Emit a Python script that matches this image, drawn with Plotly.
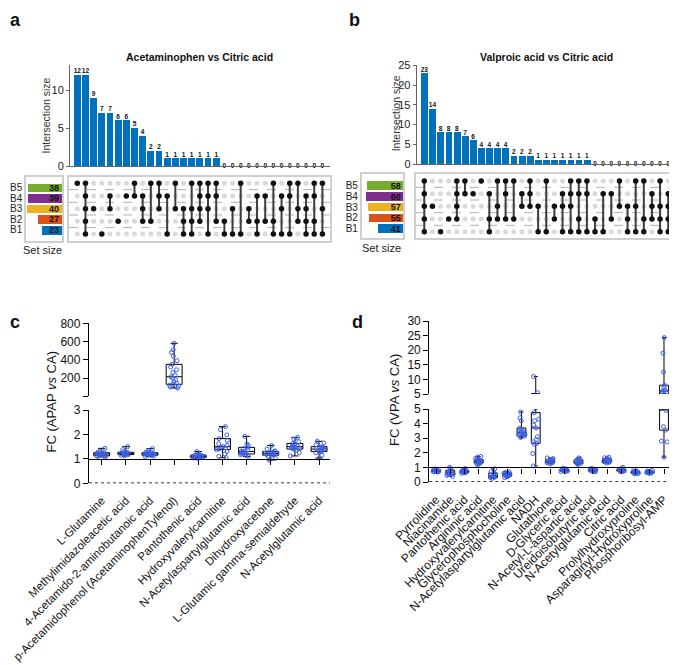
import plotly.graph_objects as go

W, H = 677, 665
OFF = 8  # the page body margin shifts the figure by 8 px
FONT = "Liberation Sans, Arial, sans-serif"


def fx(p):
    return (p - OFF) / W


def fy(p):
    return 1 - (p - OFF) / H


# ---------------- UpSet data ----------------
set_names = ["B1", "B2", "B3", "B4", "B5"]
set_colors = ["#0072BD", "#D95319", "#EDB120", "#7E2F8E", "#77AC30"]

a_set_size = [23, 27, 40, 39, 38]
a_counts = [12, 12, 9, 7, 7, 6, 6, 5, 4, 2, 2, 1, 1, 1, 1, 1, 1, 1,
            0, 0, 0, 0, 0, 0, 0, 0, 0, 0, 0, 0, 0]
a_members = ["B5", "B5 B4 B3 B2 B1", "B3", "B1", "B4 B3", "B2", "B4", "B5 B4",
             "B4 B3 B2", "B5 B2", "B5 B4 B3", "B4 B1", "B5 B3", "B3 B2 B1",
             "B5 B3 B2 B1", "B5 B4 B3 B2", "B5 B4 B3 B1", "B5 B4 B2",
             "B2 B1", "B3 B1", "B5 B1", "B3 B2", "B4 B2 B1", "B4 B2",
             "B5 B2 B1", "B4 B3 B1", "B5 B4 B1", "B5 B3 B2", "B4 B3 B2 B1",
             "B5 B4 B2 B1", "B5 B3 B1"]

b_set_size = [41, 55, 57, 60, 58]
b_counts = [23, 14, 8, 8, 8, 7, 6, 4, 4, 4, 4, 2, 2, 2, 1, 1, 1, 1, 1, 1, 1,
            0, 0, 0, 0, 0, 0, 0, 0, 0, 0]
b_members = ["B5 B4 B3 B2 B1", "B3", "B1", "B2", "B5 B4 B3 B2", "B5 B4", "B4",
             "B5", "B4 B2 B1", "B5 B3 B2", "B5 B4 B2", "B5 B2", "B4 B3",
             "B5 B4 B3", "B3 B1", "B5 B1", "B3 B2", "B4 B3 B1", "B5 B4 B3 B1",
             "B5 B4 B2 B1", "B5 B4 B1", "B2 B1", "B4 B1", "B4 B2", "B5 B3",
             "B3 B2 B1", "B5 B3 B1", "B5 B2 B1", "B4 B3 B2", "B5 B3 B2 B1",
             "B4 B3 B2 B1"]

# ---------------- box plot data ----------------
c_names = ["L-Glutamine", "Methylimidazoleacetic acid",
           "4-Acetamido-2-aminobutanoic acid",
           "p-Acetamidophenol (AcetaminophenTylenol)", "Pantothenic acid",
           "Hydroxyvalerylcarnitine", "N-Acetylaspartylglutamic acid",
           "Dihydroxyacetone", "L-Glutamic gamma-semialdehyde",
           "N-Acetylglutamic acid"]
c_q1 = [1.13, 1.18, 1.15, 131, 1.06, 1.38, 1.20, 1.15, 1.40, 1.30]
c_med = [1.20, 1.22, 1.20, 214, 1.10, 1.50, 1.30, 1.22, 1.50, 1.40]
c_q3 = [1.25, 1.27, 1.25, 350, 1.15, 1.83, 1.47, 1.30, 1.63, 1.50]
c_min = [1.08, 1.12, 1.10, 90, 1.03, 1.05, 1.10, 0.95, 1.12, 1.03]
c_max = [1.43, 1.50, 1.42, 580, 1.30, 2.32, 1.92, 1.55, 1.88, 1.72]
c_points = [
    [1.43, 1.30, 1.27, 1.25, 1.24, 1.22, 1.21, 1.20, 1.19, 1.18, 1.16, 1.15, 1.13, 1.12, 1.10, 1.08],
    [1.50, 1.38, 1.30, 1.27, 1.26, 1.24, 1.23, 1.22, 1.21, 1.20, 1.19, 1.18, 1.17, 1.15, 1.12],
    [1.42, 1.33, 1.28, 1.25, 1.24, 1.22, 1.21, 1.20, 1.19, 1.18, 1.16, 1.15, 1.14, 1.12, 1.10],
    [580, 510, 480, 440, 390, 350, 320, 290, 260, 230, 214, 200, 180, 160, 140, 131, 120, 110, 100, 90],
    [1.30, 1.20, 1.17, 1.15, 1.14, 1.12, 1.11, 1.10, 1.09, 1.08, 1.07, 1.06, 1.05, 1.04, 1.03],
    [2.32, 2.20, 1.98, 1.83, 1.75, 1.62, 1.55, 1.50, 1.48, 1.45, 1.40, 1.38, 1.30, 1.20, 1.10, 1.05],
    [1.92, 1.60, 1.55, 1.47, 1.42, 1.36, 1.32, 1.30, 1.27, 1.25, 1.22, 1.20, 1.17, 1.14, 1.10],
    [1.55, 1.40, 1.33, 1.30, 1.27, 1.25, 1.23, 1.22, 1.20, 1.18, 1.16, 1.15, 1.10, 1.02, 0.95],
    [1.88, 1.80, 1.70, 1.63, 1.60, 1.55, 1.52, 1.50, 1.48, 1.45, 1.42, 1.40, 1.35, 1.25, 1.12],
    [1.72, 1.65, 1.58, 1.50, 1.48, 1.45, 1.42, 1.40, 1.38, 1.35, 1.32, 1.30, 1.25, 1.15, 1.03],
]

d_names = ["Pyrrolidine", "Niacinamide", "Pantothenic acid", "Argininic acid",
           "Hydroxyvalerylcarnitine", "Glycerophosphocholine",
           "N-Acetylaspartylglutamic acid", "NADH", "Glutathione",
           "D-Glyceric acid", "N-Acetyl-L-aspartic acid",
           "Ureidoisobutyric acid", "N-Acetylglutamic acid", "Citric acid",
           "Prolylhydroxyproline", "Asparaginyl-Hydroxyproline",
           "Phosphoribosyl-AMP"]
d_q1 = [0.72, 0.50, 0.65, 1.30, 0.30, 0.40, 3.20, 2.65, 1.32, 0.75, 1.28, 0.75, 1.35, 0.75, 0.60, 0.62, 3.55]
d_med = [0.78, 0.62, 0.70, 1.40, 0.42, 0.50, 3.40, 3.70, 1.42, 0.80, 1.38, 0.80, 1.47, 0.80, 0.65, 0.67, 6.00]
d_q3 = [0.85, 0.80, 0.78, 1.55, 0.60, 0.60, 3.70, 4.75, 1.55, 0.88, 1.52, 0.88, 1.60, 0.88, 0.72, 0.72, 8.00]
d_min = [0.68, 0.38, 0.60, 1.18, 0.25, 0.30, 3.05, 1.10, 1.25, 0.70, 1.20, 0.70, 1.30, 0.70, 0.55, 0.60, 1.70]
d_max = [0.90, 1.00, 0.92, 1.75, 0.90, 0.70, 4.80, 11.0, 1.65, 0.95, 1.65, 0.92, 1.70, 1.00, 0.85, 0.80, 24.3]
d_points = [
    [0.90, 0.87, 0.85, 0.82, 0.80, 0.78, 0.77, 0.75, 0.73, 0.72, 0.70, 0.68],
    [1.00, 0.92, 0.80, 0.75, 0.68, 0.62, 0.60, 0.55, 0.50, 0.45, 0.38],
    [0.92, 0.80, 0.78, 0.74, 0.72, 0.70, 0.68, 0.66, 0.65, 0.62, 0.60],
    [1.75, 1.70, 1.62, 1.55, 1.50, 1.45, 1.40, 1.37, 1.33, 1.30, 1.25, 1.18],
    [0.90, 0.70, 0.60, 0.55, 0.48, 0.42, 0.40, 0.35, 0.32, 0.30, 0.25],
    [0.70, 0.65, 0.60, 0.56, 0.52, 0.50, 0.47, 0.44, 0.40, 0.35, 0.30],
    [4.80, 4.40, 4.20, 3.70, 3.60, 3.50, 3.45, 3.40, 3.35, 3.30, 3.25, 3.20, 3.15, 3.10, 3.05],
    [11.0, 5.45, 4.75, 4.30, 4.20, 3.90, 3.70, 3.10, 2.90, 2.75, 2.65, 2.60, 1.95, 1.10],
    [1.65, 1.60, 1.55, 1.50, 1.46, 1.42, 1.40, 1.36, 1.32, 1.30, 1.25],
    [0.95, 0.90, 0.88, 0.85, 0.82, 0.80, 0.78, 0.76, 0.75, 0.72, 0.70],
    [1.65, 1.60, 1.52, 1.48, 1.42, 1.38, 1.35, 1.30, 1.28, 1.25, 1.20],
    [0.92, 0.90, 0.88, 0.85, 0.82, 0.80, 0.78, 0.76, 0.75, 0.72, 0.70],
    [1.70, 1.66, 1.60, 1.55, 1.50, 1.47, 1.44, 1.40, 1.37, 1.35, 1.30],
    [1.00, 0.92, 0.88, 0.85, 0.82, 0.80, 0.78, 0.76, 0.75, 0.72, 0.70],
    [0.85, 0.75, 0.72, 0.70, 0.67, 0.65, 0.63, 0.61, 0.60, 0.58, 0.55],
    [0.80, 0.75, 0.72, 0.70, 0.68, 0.67, 0.66, 0.64, 0.62, 0.61, 0.60],
    [24.3, 19.0, 12.5, 8.0, 7.2, 6.3, 6.0, 5.8, 5.6, 4.9, 3.8, 3.55, 2.8, 2.75, 1.7],
]


def X(i):
    return "x" if i == 1 else f"x{i}"


def Y(i):
    return "y" if i == 1 else f"y{i}"


def XL(i):
    return "xaxis" if i == 1 else f"xaxis{i}"


def YL(i):
    return "yaxis" if i == 1 else f"yaxis{i}"


fig = go.Figure()
layout = {}
shapes = []
NOAX = dict(showgrid=False, zeroline=False, automargin=False)


def col_range(d0, d1, c1, step):
    return [1 + (d0 - c1) / step, 1 + (d1 - c1) / step]


def row_range(top, bot, r5, step):
    # r5: pixel centre of the top row (index 4)
    return [-(bot - (r5 + 4 * step)) / step, 4 + (r5 - top) / step]


def upset(i, counts, members, sizes, g):
    cols = list(range(1, len(counts) + 1))
    # intersection bars
    fig.add_trace(go.Bar(x=cols, y=counts, marker_color="#0072BD", marker_line_width=0,
                         width=0.84, xaxis=X(i), yaxis=Y(i), hoverinfo="skip"))
    fig.add_trace(go.Scatter(x=cols, y=counts, mode="text",
                             text=[f"<b>{c}</b>" for c in counts],
                             textposition=["top center" if c else "middle center" for c in counts],
                             textfont=dict(size=6.5, color="#111", family=FONT),
                             xaxis=X(i), yaxis=Y(i), hoverinfo="skip", cliponaxis=False))
    layout[XL(i)] = dict(domain=[fx(g["bx"][0]), fx(g["bx"][1])],
                         range=col_range(g["bx"][0], g["bx"][1], g["c1"], g["step"]),
                         anchor=Y(i), showline=True, linecolor="#666", linewidth=1, ticks="",
                         showticklabels=False, **NOAX)
    layout[YL(i)] = dict(domain=[fy(g["by"][1]), fy(g["by"][0])], range=[0, g["ytop"]],
                         anchor=X(i), tickvals=g["yticks"], ticks="outside", ticklen=3,
                         tickcolor="#666", showline=True, linecolor="#666", linewidth=1,
                         tickfont=dict(size=11, color="#222", family=FONT), **NOAX)
    # membership matrix
    j = i + 1
    gx, gy = [], []
    for c in cols:
        for r in range(5):
            gx.append(c)
            gy.append(r)
    fig.add_trace(go.Scatter(x=gx, y=gy, mode="markers",
                             marker=dict(size=5, color="#dadada"),
                             xaxis=X(j), yaxis=Y(j), hoverinfo="skip"))
    lx, ly, dx, dy = [], [], [], []
    for c, m in zip(cols, members):
        rows = [set_names.index(s) for s in m.split()]
        dx += [c] * len(rows)
        dy += rows
        if len(rows) > 1:
            lx += [c, c, None]
            ly += [min(rows), max(rows), None]
    fig.add_trace(go.Scatter(x=lx, y=ly, mode="lines", line=dict(color="#3c3c3c", width=2),
                             xaxis=X(j), yaxis=Y(j), hoverinfo="skip"))
    fig.add_trace(go.Scatter(x=dx, y=dy, mode="markers", marker=dict(size=5.5, color="#111"),
                             xaxis=X(j), yaxis=Y(j), hoverinfo="skip"))
    box = dict(showline=True, mirror=True, linecolor="#cfcfcf", linewidth=1.5, ticks="", **NOAX)
    layout[XL(j)] = dict(domain=[fx(g["mx"][0]), fx(g["mx"][1])],
                         range=col_range(g["mx"][0], g["mx"][1], g["c1"], g["step"]),
                         anchor=Y(j), showticklabels=False, **box)
    layout[YL(j)] = dict(domain=[fy(g["my"][1]), fy(g["my"][0])],
                         range=row_range(g["my"][0], g["my"][1], g["mr5"], g["mstep"]),
                         anchor=X(j), showticklabels=False, **box)
    for r in (0.5, 1.5, 2.5, 3.5):
        shapes.append(dict(type="line", xref=f"{X(j)} domain", x0=0, x1=1, yref=Y(j),
                           y0=r, y1=r, layer="below",
                           line=dict(color="#b0b0b0", width=1, dash="dash")))
    # set sizes
    k = i + 2
    fig.add_trace(go.Bar(x=sizes, y=list(range(5)), orientation="h", marker_color=set_colors,
                         marker_line_width=0, width=0.8, text=sizes,
                         texttemplate="<b>%{x}</b>", textposition="inside",
                         insidetextanchor="start", constraintext="none",
                         textfont=dict(size=9, color="#111", family=FONT),
                         xaxis=X(k), yaxis=Y(k), hoverinfo="skip"))
    layout[XL(k)] = dict(domain=[fx(g["sx"][0]), fx(g["sx"][1])], range=[g["smax"], 0],
                         anchor=Y(k), showticklabels=False, **box)
    layout[YL(k)] = dict(domain=[fy(g["sy"][1]), fy(g["sy"][0])],
                         range=row_range(g["sy"][0], g["sy"][1], g["sr5"], g["sstep"]),
                         anchor=X(k), tickvals=list(range(5)), ticktext=set_names,
                         tickfont=dict(size=10, color="#222", family=FONT), **box)


upset(1, a_counts, a_members, a_set_size,
      dict(bx=(70, 330), by=(65, 166), ytop=13.3, yticks=[0, 5, 10], c1=77.3, step=8.17,
           mx=(69, 330), my=(177, 241), mr5=183.3, mstep=12.67,
           sx=(26, 62), sy=(176.7, 240.7), smax=40.8, sr5=187.7, sstep=10.57))
upset(4, b_counts, b_members, b_set_size,
      dict(bx=(416.7, 675), by=(65, 164), ytop=25.1, yticks=[0, 5, 10, 15, 20, 25],
           c1=424.3, step=8.13,
           mx=(416, 673), my=(174, 238), mr5=181, mstep=12.67,
           sx=(361.7, 403.3), sy=(174, 238), smax=65.7, sr5=185.5, sstep=10.8))


# ---------------- broken-axis box plots ----------------
def boxes(xa, xlab, ylo, yhi, names, q1, med, q3, lo, hi, pts, g):
    pos = list(range(len(names)))
    for ya, (r0, r1) in ((ylo, g["lor"]), (yhi, g["hir"])):
        # keep only what falls inside this segment of the broken axis
        keep = [p for p in pos if lo[p] < r1 and hi[p] > r0]

        def cut(v):
            return [min(max(v[p], r0), r1) for p in keep]

        fig.add_trace(go.Box(x=keep, q1=cut(q1), median=cut(med), q3=cut(q3),
                             lowerfence=cut(lo), upperfence=cut(hi),
                             width=g["bw"], whiskerwidth=0.45, boxpoints=False,
                             line=dict(color="black", width=1), fillcolor="rgba(0,0,0,0)",
                             xaxis=X(xa), yaxis=Y(ya), hoverinfo="skip"))
        ptx, pty = [], []
        for p, vals in zip(pos, pts):
            for v in vals:
                if r0 <= v <= r1:
                    ptx.append(p)
                    pty.append(v)
        fig.add_trace(go.Box(x=ptx, y=pty, boxpoints="all", jitter=0.8, pointpos=0,
                             width=g["bw"], line=dict(color="rgba(0,0,0,0)", width=0),
                             fillcolor="rgba(0,0,0,0)",
                             marker=dict(symbol="circle-open", size=4, color="#3a5fe6",
                                         line=dict(width=1, color="#3a5fe6")),
                             xaxis=X(xa), yaxis=Y(ya), hoverinfo="skip"))
    # invisible carrier trace so the label axis gets drawn
    fig.add_trace(go.Scatter(x=pos, y=[0] * len(pos), mode="markers", marker=dict(opacity=0),
                             xaxis=X(xlab), yaxis=Y(ylo), hoverinfo="skip"))
    x0, x1 = g["x"]
    xr = [-(g["t0"] - x0) / g["dt"], (x1 - g["t0"]) / g["dt"]]
    lo_dom = [fy(g["ylo"][1]), fy(g["ylo"][0])]
    rl = g["lor"]
    pos1 = lo_dom[0] + (1 - rl[0]) / (rl[1] - rl[0]) * (lo_dom[1] - lo_dom[0])
    layout[XL(xa)] = dict(domain=[fx(x0), fx(x1)], range=xr, anchor="free", position=pos1,
                          showline=True, linecolor="black", linewidth=1.3, ticks="outside",
                          ticklen=5, tickwidth=1.2, tickcolor="black", tickvals=pos,
                          showticklabels=False, **NOAX)
    layout[XL(xlab)] = dict(domain=[fx(x0), fx(x1)], range=xr, anchor=Y(ylo), showline=False,
                            ticks="outside", ticklen=5, tickcolor="rgba(0,0,0,0)",
                            tickvals=pos, ticktext=names, tickangle=-45,
                            ticklabeloverflow="allow",
                            tickfont=dict(size=g["lf"], color="#111", family=FONT), **NOAX)
    common = dict(anchor=X(xa), showline=True, linecolor="black", linewidth=1.3,
                  ticks="outside", ticklen=5, tickwidth=1.2, tickcolor="black",
                  tickfont=dict(size=12, color="#111", family=FONT), **NOAX)
    layout[YL(ylo)] = dict(domain=lo_dom, range=g["lor"], tickvals=g["lot"], **common)
    layout[YL(yhi)] = dict(domain=[fy(g["yhi"][1]), fy(g["yhi"][0])], range=g["hir"],
                           tickvals=g["hit"], ticktext=g["hitxt"], **common)
    shapes.append(dict(type="line", xref=f"{X(xa)} domain", x0=0, x1=1, yref=Y(ylo),
                       y0=0, y1=0, line=dict(color="black", width=1.6, dash="dot")))


boxes(7, 8, 7, 8, c_names, c_q1, c_med, c_q3, c_min, c_max, c_points,
      dict(x=(89, 330), t0=101.7, dt=24.15, bw=0.66, lf=11.5,
           ylo=(410, 483.3), lor=[0, 3], lot=[0, 1, 2, 3],
           yhi=(323.3, 396), hir=[3, 800], hit=[3, 200, 400, 600, 800],
           hitxt=["", "200", "400", "600", "800"]))
boxes(9, 10, 9, 10, d_names, d_q1, d_med, d_q3, d_min, d_max, d_points,
      dict(x=(429.3, 671.7), t0=436, dt=14.25, bw=0.62, lf=12,
           ylo=(409, 482), lor=[0, 5], lot=[0, 1, 2, 3, 4, 5],
           yhi=(321, 394), hir=[5, 30], hit=[5, 10, 15, 20, 25, 30],
           hitxt=["5", "10", "15", "20", "25", "30"]))


# ---------------- text ----------------
def note(text, x, y, size, bold=False, angle=0, xanchor="center", color="#111"):
    return dict(text=f"<b>{text}</b>" if bold else text, x=fx(x), y=fy(y), xref="paper",
                yref="paper", showarrow=False, textangle=angle, xanchor=xanchor,
                yanchor="middle", font=dict(size=size, color=color, family=FONT))


annotations = [
    note("a", 8, 20, 18, bold=True, xanchor="left"),
    note("b", 347, 20, 18, bold=True, xanchor="left"),
    note("c", 8, 322, 18, bold=True, xanchor="left"),
    note("d", 350, 322, 18, bold=True, xanchor="left"),
    note("Acetaminophen vs Citric acid", 199.7, 57.3, 10.5, bold=True),
    note("Valproic acid vs Citric acid", 546.7, 57, 10.5, bold=True),
    note("Intersection size", 45.7, 115.8, 10.5, angle=-90, color="#333"),
    note("Intersection size", 396, 113.3, 10.5, angle=-90, color="#333"),
    note("Set size", 42, 250, 11, color="#222"),
    note("Set size", 381.7, 248.3, 11, color="#222"),
    note("FC (APAP <i>vs</i> CA)", 51.7, 401.7, 13, angle=-90),
    note("FC (VPA <i>vs</i> CA)", 395, 400, 13, angle=-90),
]

fig.update_layout(
    width=W, height=H, autosize=False,
    margin=dict(l=0, r=0, t=0, b=0, pad=0),
    paper_bgcolor="white", plot_bgcolor="rgba(0,0,0,0)",
    showlegend=False, boxmode="overlay", bargap=0,
    font=dict(family=FONT, color="#111"),
    shapes=shapes, annotations=annotations,
    **layout,
)

fig.write_html("out.html")
